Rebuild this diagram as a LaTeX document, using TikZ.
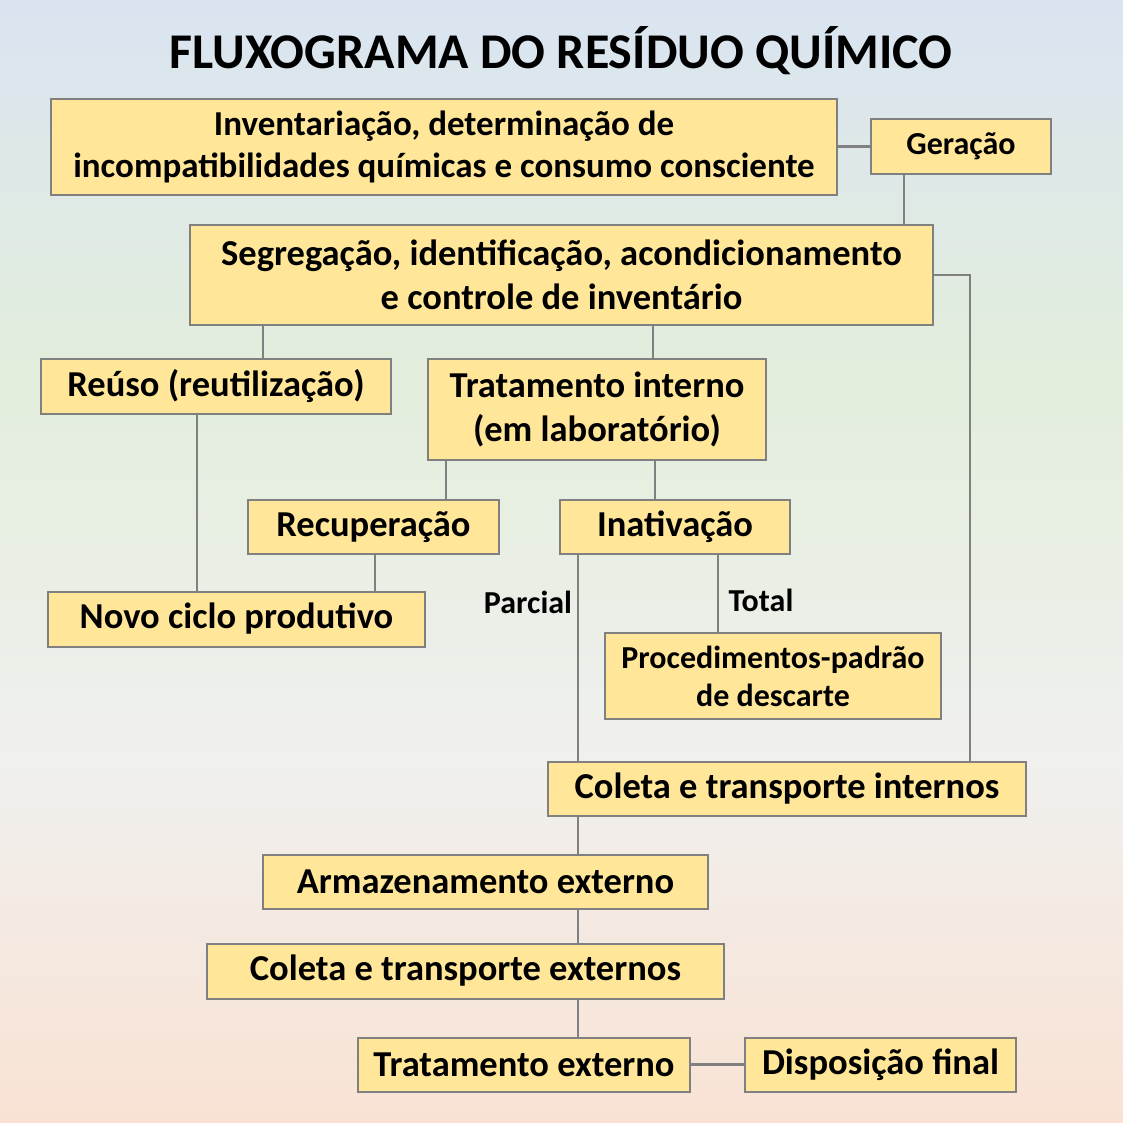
\documentclass[tikz,border=0pt]{standalone}
\usepackage{fontspec}
\setmainfont{Carlito}
\definecolor{boxfill}{HTML}{FFE699}
\definecolor{boxline}{HTML}{808080}
\definecolor{bgA}{HTML}{DAE4F1}
\definecolor{bgB}{HTML}{E3EEDC}
\definecolor{bgC}{HTML}{F0F0EE}
\definecolor{bgD}{HTML}{F9E2D4}
\begin{document}
\begin{tikzpicture}[x=1pt,y=-1pt,
  box/.style={draw=boxline,line width=2pt,fill=boxfill,inner sep=0pt,align=center,font=\bfseries\fontsize{36.5}{44}\selectfont},
  smallbox/.style={box,font=\bfseries\fontsize{32}{38}\selectfont},
  lbl/.style={font=\bfseries\fontsize{32}{34}\selectfont,inner sep=0pt},
  link/.style={draw=boxline,line width=2.5pt}]
% background
\fill[top color=bgA,bottom color=bgB] (0,0) rectangle (1123,380);
\fill[top color=bgB,bottom color=bgC] (0,380) rectangle (1123,760);
\fill[top color=bgC,bottom color=bgD] (0,760) rectangle (1123,1123);
\useasboundingbox (0,0) rectangle (1123,1123);
\node[font=\bfseries\fontsize{50}{60}\selectfont] (title) at (561,51) {FLUXOGRAMA DO RESÍDUO QUÍMICO};
% boxes
\node[box,font=\bfseries\fontsize{35}{42}\selectfont,minimum width=786,minimum height=96] (inv) at (444,147) {Inventariação, determinação de\\incompatibilidades químicas e consumo consciente};
\node[smallbox,minimum width=180,minimum height=55] (ger) at (961,146.5) {Geração};
\node[box,minimum width=743,minimum height=99] (seg) at (561.5,275) {Segregação, identificação, acondicionamento\\e controle de inventário};
\node[box,minimum width=350,minimum height=55] (reuso) at (216,386) {Reúso (reutilização)};
\node[box,minimum width=338,minimum height=101] (trint) at (597,409) {Tratamento interno\\(em laboratório)};
\node[box,minimum width=251,minimum height=54] (recup) at (373.5,527) {Recuperação};
\node[box,minimum width=230,minimum height=54] (inat) at (675,527) {Inativação};
\node[box,minimum width=377,minimum height=55] (novo) at (236.5,619) {Novo ciclo produtivo};
\node[smallbox,minimum width=336,minimum height=86] (proc) at (773,676) {Procedimentos-padrão\\de descarte};
\node[box,minimum width=478,minimum height=54] (colint) at (787,788.5) {Coleta e transporte internos};
\node[box,minimum width=445,minimum height=54] (armaz) at (485.5,881.5) {Armazenamento externo};
\node[box,minimum width=517,minimum height=55] (colext) at (465.5,971) {Coleta e transporte externos};
\node[box,minimum width=332,minimum height=54] (trext) at (524,1064.5) {Tratamento externo};
\node[box,minimum width=271,minimum height=54] (disp) at (880.5,1064.5) {Disposição final};
\node[lbl] (parcial) at (528,602) {Parcial};
\node[lbl] (total) at (761,600) {Total};
% connectors
\draw[link] (inv.east |- ger.west) -- (ger.west);
\draw[link] (904,0 |- ger.south) -- (904,0 |- seg.north);
\draw[link] (seg.east) -| (colint.north -| 970,0);
\draw[link] (263,0 |- seg.south) -- (263,0 |- reuso.north);
\draw[link] (653,0 |- seg.south) -- (653,0 |- trint.north);
\draw[link] (197,0 |- reuso.south) -- (197,0 |- novo.north);
\draw[link] (446,0 |- trint.south) -- (446,0 |- recup.north);
\draw[link] (655,0 |- trint.south) -- (655,0 |- inat.north);
\draw[link] (375,0 |- recup.south) -- (375,0 |- novo.north);
\draw[link] (578,0 |- inat.south) -- (578,0 |- colint.north);
\draw[link] (718,0 |- inat.south) -- (718,0 |- proc.north);
\draw[link] (578,0 |- colint.south) -- (578,0 |- armaz.north);
\draw[link] (578,0 |- armaz.south) -- (578,0 |- colext.north);
\draw[link] (578,0 |- colext.south) -- (578,0 |- trext.north);
\draw[link] (trext.east) -- (disp.west);
\end{tikzpicture}
\end{document}
